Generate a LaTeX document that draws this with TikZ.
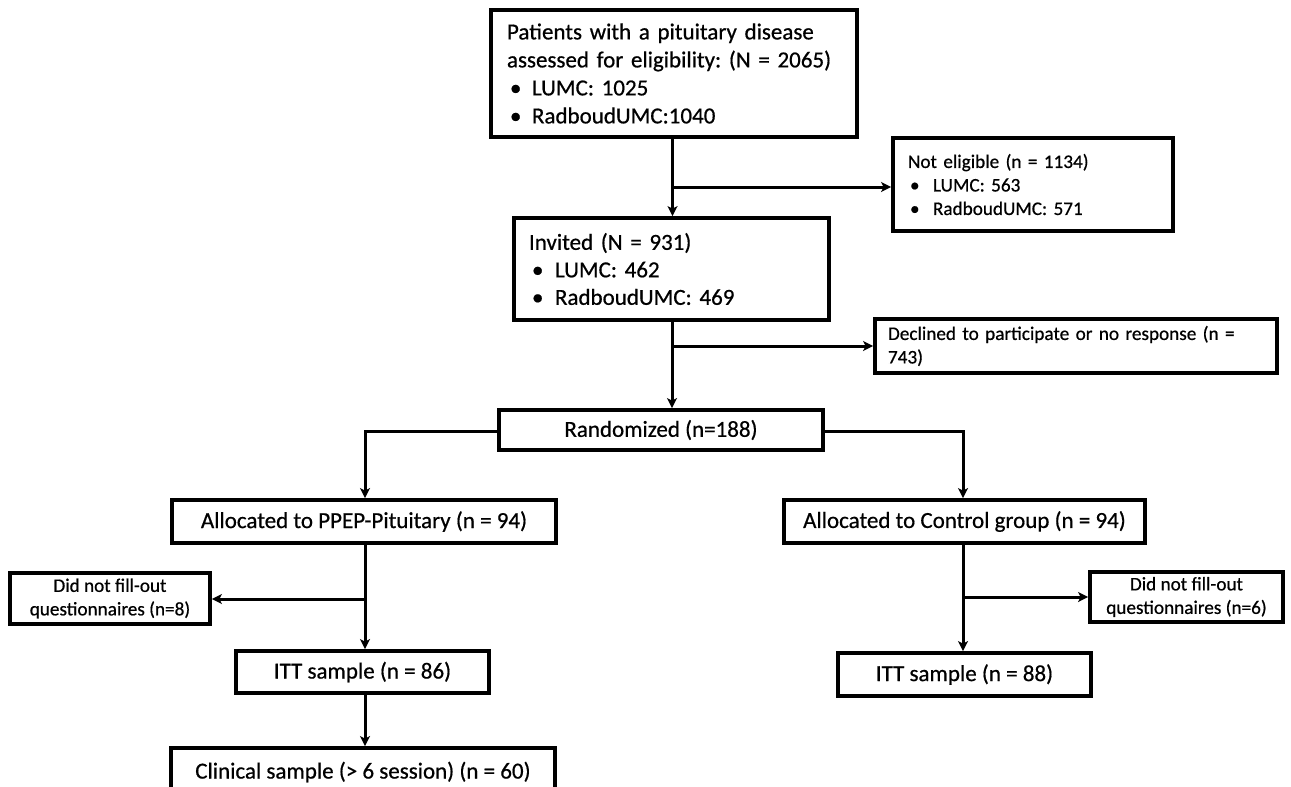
\documentclass[tikz,border=0pt]{standalone}
\usepackage{fontspec}
\setmainfont{Carlito}[FakeBold=0.6]
\usetikzlibrary{arrows.meta}
\begin{document}
\frenchspacing
\begin{tikzpicture}[x=1pt,y=-1pt]
\tikzset{
  boxbase/.style={draw=black, line width=3.8pt, fill=white, inner xsep=0pt, inner ysep=0pt},
  bigtxt/.style={font=\fontsize{23}{28}\selectfont},
  midtxt/.style={font=\fontsize{23}{27.5}\selectfont},
  smalltxt/.style={font=\fontsize{19.2}{23.5}\selectfont},
  conn/.style={line width=3pt, -{Stealth[length=10pt,width=10pt,inset=2.5pt]}}
}
\useasboundingbox (0,0) rectangle (1291,787);
\fill[white] (0,0) rectangle (1291,787);
\clip (0,0) rectangle (1291,787);

% boxes
\node[boxbase,bigtxt,minimum width=366pt,minimum height=127pt,text width=334pt,align=left] (top) at (674,73.5)
  {Patients with a pituitary disease\\
   assessed for eligibility: (N = 2065)\\
   \hspace*{3pt}\makebox[22pt][l]{\textbullet}LUMC: 1025\\
   \hspace*{3pt}\makebox[22pt][l]{\textbullet}RadboudUMC:1040};

\node[boxbase,smalltxt,minimum width=280pt,minimum height=93pt,text width=250pt,align=left] (ne) at (1033,184.5)
  {Not eligible (n = 1134)\\
   \hspace*{2pt}\makebox[23pt][l]{\textbullet}LUMC: 563\\
   \hspace*{2pt}\makebox[23pt][l]{\textbullet}RadboudUMC: 571};

\node[boxbase,midtxt,minimum width=315pt,minimum height=102pt,text width=285pt,align=left] (inv) at (671.5,269)
  {Invited (N = 931)\\
   \hspace*{3pt}\makebox[23pt][l]{\textbullet}LUMC: 462\\
   \hspace*{3pt}\makebox[23pt][l]{\textbullet}RadboudUMC: 469};

\node[boxbase,smalltxt,minimum width=402pt,minimum height=54pt,text width=376pt,align=left] (dec) at (1076,346)
  {Declined to participate or no response (n =\\743)};

\node[boxbase,bigtxt,minimum width=324pt,minimum height=40pt] (rand) at (661,430) {Randomized (n=188)};

\node[boxbase,bigtxt,minimum width=384pt,minimum height=43pt] (alloc) at (364,521.5) {Allocated to PPEP-Pituitary (n = 94)};
\node[boxbase,bigtxt,minimum width=361pt,minimum height=43pt] (ctrl) at (964.5,521.5) {Allocated to Control group (n = 94)};

\node[boxbase,smalltxt,minimum width=200pt,minimum height=51pt,align=center] (dn1) at (110,598.5)
  {Did not fill-out\\questionnaires (n=8)};
\node[boxbase,smalltxt,minimum width=193pt,minimum height=50pt,align=center] (dn2) at (1186.5,597)
  {Did not fill-out\\questionnaires (n=6)};

\node[boxbase,bigtxt,minimum width=253pt,minimum height=42pt] (itt1) at (362.5,672) {ITT sample (n = 86)};
\node[boxbase,bigtxt,minimum width=253pt,minimum height=43pt] (itt2) at (964.5,674.5) {ITT sample (n = 88)};

\node[boxbase,bigtxt,minimum width=384pt,minimum height=48pt] (clin) at (363,772) {Clinical sample (> 6 session) (n = 60)};

% connectors
\coordinate (b1) at (672.5,187);
\draw[conn] (top.south -| b1) -- (inv.north -| b1);
\draw[conn] (b1) -- (b1 -| ne.west);

\coordinate (b2) at (672,346);
\draw[conn] (inv.south -| b2) -- (rand.north -| b2);
\draw[conn] (b2) -- (dec.west);

\coordinate (lcol) at (365,431);
\coordinate (rcol) at (963,431);
\draw[conn] (rand.west |- lcol) -- (lcol) -- (lcol |- alloc.north);
\draw[conn] (rand.east |- rcol) -- (rcol) -- (rcol |- ctrl.north);

\coordinate (b3) at (365,599);
\draw[conn] (alloc.south -| b3) -- (itt1.north -| b3);
\draw[conn] (b3) -- (b3 -| dn1.east);
\draw[conn] (itt1.south -| b3) -- (clin.north -| b3);

\coordinate (b4) at (963,597);
\draw[conn] (ctrl.south -| b4) -- (itt2.north -| b4);
\draw[conn] (b4) -- (b4 -| dn2.west);
\end{tikzpicture}
\end{document}
